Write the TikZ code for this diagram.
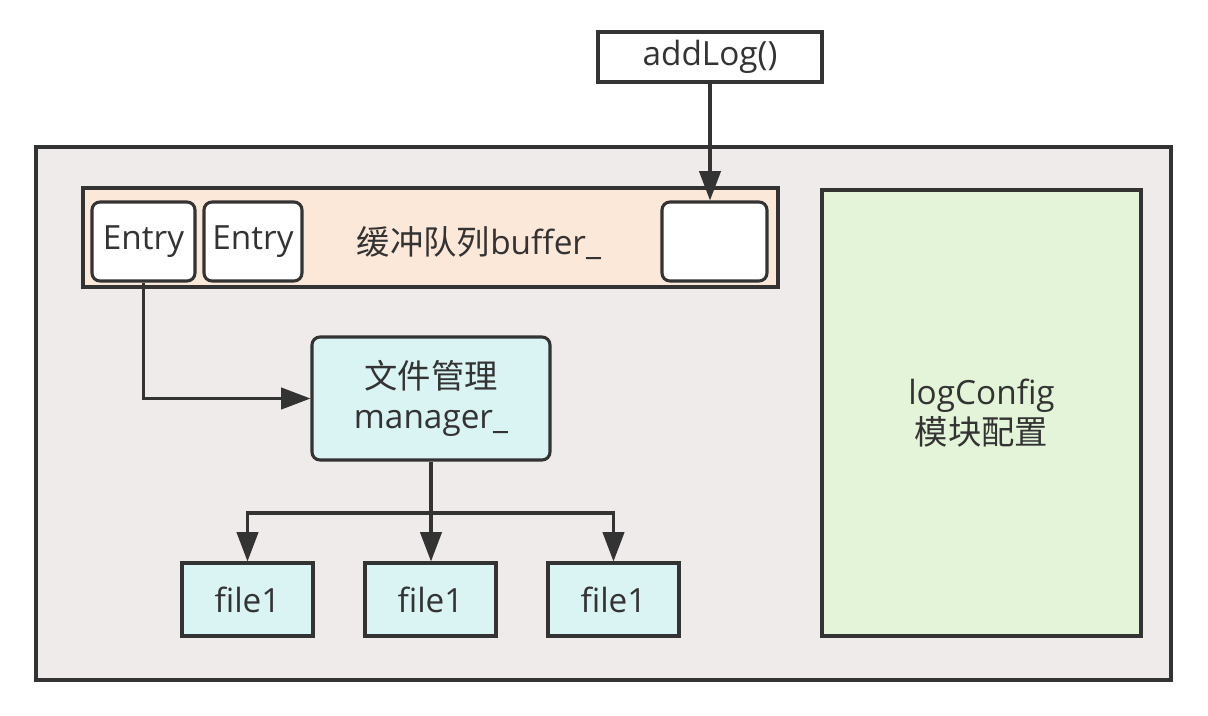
\documentclass[tikz,border=0pt]{standalone}
\usepackage{fontspec}
\setmainfont{Open Sans}
\newfontfamily\cjk{Noto Sans CJK SC}
\usetikzlibrary{arrows.meta}

\definecolor{lineclr}{HTML}{333333}
\definecolor{outerclr}{HTML}{EFEBEA}
\definecolor{bufclr}{HTML}{FCE8D9}
\definecolor{mgrclr}{HTML}{DAF4F3}
\definecolor{cfgclr}{HTML}{E3F4D9}

\tikzset{
  box/.style={draw=lineclr, line width=2.3pt, inner sep=0pt, align=center,
    text=lineclr, font=\fontsize{25}{30}\selectfont},
  rbox/.style={box, rounded corners=6pt},
  flow/.style={draw=lineclr, line width=2.3pt, -{Triangle[length=22pt,width=16pt]}},
  wire/.style={draw=lineclr, line width=3pt}
}

\begin{document}
\begin{tikzpicture}[x=0.75pt,y=-0.75pt]
  \useasboundingbox (0,0) rectangle (1208,715);
  %% outer frame and containers
  \node[box, fill=outerclr, minimum width=851.25pt, minimum height=399.75pt] (outer) at (603.5,413.5) {};
  \node[box, fill=bufclr, minimum width=521.25pt, minimum height=74.25pt] (buffer) at (430.5,237.5) {};
  \node[box, fill=cfgclr, minimum width=239.25pt, minimum height=334.5pt] (config) at (981.5,413) {\raisebox{-5pt}{\parbox{150pt}{\centering logConfig\\{\cjk 模块配置}}}};
  \node[box, fill=white, minimum width=168pt, minimum height=37.5pt] (addlog) at (710,57) {addLog()};
  %% buffer contents
  \node[rbox, fill=white, minimum width=77.25pt, minimum height=59.25pt] (entryA) at (143.5,241.5) {Entry};
  \node[rbox, fill=white, minimum width=73.5pt, minimum height=59.25pt] (entryB) at (253,241.5) {Entry};
  \node[rbox, fill=white, minimum width=78.75pt, minimum height=59.25pt] (slot) at (714.5,241.5) {};
  \node[text=lineclr, font=\fontsize{25}{30}\selectfont] (buftext) at (479,243) {{\cjk 缓冲队列}buffer\_};
  %% manager and files
  \node[rbox, fill=mgrclr, minimum width=178.5pt, minimum height=92.25pt] (manager) at (431,398.5) {{\cjk 文件管理}\\manager\_};
  \foreach \x/\name in {247.5/fileA,430.5/fileB,613.5/fileC}{
    \node[box, fill=mgrclr, minimum width=98.25pt, minimum height=54.75pt] (\name) at (\x,599.5) {file1};
  }
  \coordinate (split) at (manager.south |- {(0,513)});
  %% connectors
  \draw[flow] (addlog.south) -- (addlog.south |- slot.north);
  \draw[flow] (entryA.south) |- (manager.west);
  \draw[wire] (manager.south) -- (split);
  \draw[flow] (split) -| (fileA.north);
  \draw[flow] (split) -| (fileC.north);
  \draw[flow] (split) -- (split |- fileB.north);
\end{tikzpicture}
\end{document}
